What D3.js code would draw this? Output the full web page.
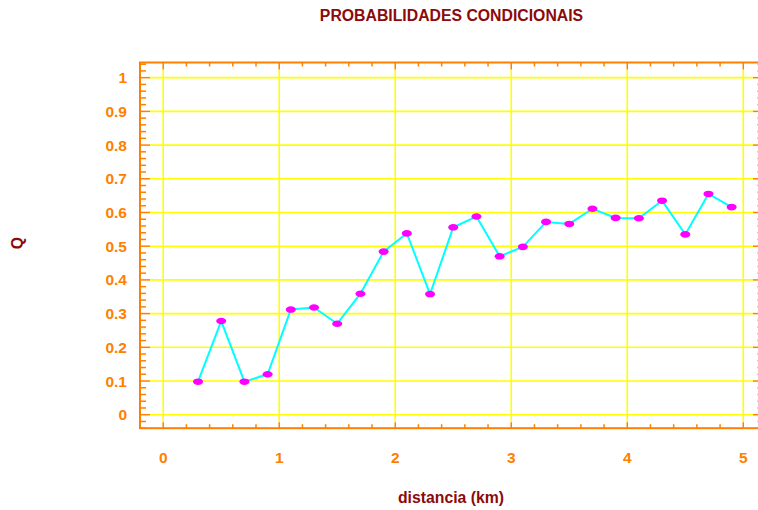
<!DOCTYPE html>
<html><head><meta charset="utf-8">
<script src="https://cdn.jsdelivr.net/npm/d3@7"></script>
<style>
html,body{margin:0;padding:0;background:#fff;overflow:hidden}
text{font-family:"Liberation Sans",Arial,sans-serif;font-weight:bold}
</style></head>
<body>
<svg id="c" width="758" height="510"></svg>
<script>
const xValues = [0.3,0.5,0.7,0.9,1.1,1.3,1.5,1.7,1.9,2.1,2.3,2.5,2.7,2.9,3.1,3.3,3.5,3.7,3.9,4.1,4.3,4.5,4.7,4.9];
const qValues = [0.098,0.278,0.098,0.12,0.312,0.318,0.27,0.359,0.484,0.538,0.358,0.556,0.588,0.470,0.498,0.572,0.566,0.611,0.584,0.583,0.635,0.535,0.655,0.616];
const xTicks = [0,1,2,3,4,5];
const yTicks = [0,0.1,0.2,0.3,0.4,0.5,0.6,0.7,0.8,0.9,1];
const title = "PROBABILIDADES CONDICIONAIS";
const xLabel = "distancia (km)";
const yLabel = "Q";

const svg = d3.select("#c");
const L = 140, R = 763, T = 62.5, B = 428.2;
const x = d3.scaleLinear().domain([-0.2, 5.17]).range([L, R]);
const y = d3.scaleLinear().domain([-0.04, 1.045]).range([B, T]);
const orange = "#ff8000", yellow = "#ffff00", dark = "#8b0a0a";

// grid
const xMinor = d3.range(-0.2, 5.17, 0.2).map(v => +v.toFixed(2));
const yMinor = d3.range(-0.04, 1.045, 0.02).map(v => +v.toFixed(2));
svg.append("g").selectAll("line").data(yTicks).join("line")
  .attr("x1", L + 10).attr("x2", R - 10)
  .attr("y1", d => y(d)).attr("y2", d => y(d))
  .attr("stroke", yellow).attr("stroke-width", 1.6);
svg.append("g").selectAll("line").data(xTicks).join("line")
  .attr("x1", d => x(d)).attr("x2", d => x(d))
  .attr("y1", B - 6).attr("y2", T + 7)
  .attr("stroke", yellow).attr("stroke-width", 1.6);

// ticks
const isMajorX = v => Math.abs(v - Math.round(v)) < 1e-6;
const isMajorY = v => Math.abs(v * 10 - Math.round(v * 10)) < 1e-6;
const tg = svg.append("g").attr("stroke", orange).attr("stroke-width", 1.5);
xMinor.forEach(v => {
  const mj = isMajorX(v);
  tg.append("line").attr("x1", x(v)).attr("x2", x(v)).attr("y1", B).attr("y2", B - (mj ? 6 : 4));
  tg.append("line").attr("x1", x(v)).attr("x2", x(v)).attr("y1", T).attr("y2", T + (mj ? 7 : 4));
});
yMinor.forEach(v => {
  const mj = isMajorY(v);
  tg.append("line").attr("y1", y(v)).attr("y2", y(v)).attr("x1", L).attr("x2", L + (mj ? 10 : 6));
  tg.append("line").attr("y1", y(v)).attr("y2", y(v)).attr("x1", R).attr("x2", R - (mj ? 10 : 6))
    .attr("stroke-opacity", mj ? 1 : 0.5);
});

// frame
svg.append("rect").attr("x", L).attr("y", T).attr("width", R - L).attr("height", B - T)
  .attr("fill", "none").attr("stroke", orange).attr("stroke-width", 2);

// line + markers
const line = d3.line().x((d, i) => x(xValues[i])).y(d => y(d));
svg.append("path").datum(qValues).attr("d", line)
  .attr("fill", "none").attr("stroke", "#00ffff").attr("stroke-width", 2);
svg.append("g").selectAll("ellipse").data(qValues).join("ellipse")
  .attr("cx", (d, i) => x(xValues[i])).attr("cy", d => y(d))
  .attr("rx", 5).attr("ry", 3.3).attr("fill", "#ff00ff");

// tick labels
svg.append("g").selectAll("text").data(yTicks).join("text")
  .attr("x", 127).attr("y", d => y(d)).attr("dy", "0.36em")
  .attr("text-anchor", "end").attr("fill", orange).attr("font-size", 15.5)
  .text(d => d3.format("")(d));
svg.append("g").selectAll("text").data(xTicks).join("text")
  .attr("x", d => x(d)).attr("y", 463)
  .attr("text-anchor", "middle").attr("fill", orange).attr("font-size", 15.5)
  .text(d => d);

// titles
svg.append("text").attr("x", 451.5).attr("y", 21).attr("text-anchor", "middle")
  .attr("fill", dark).attr("font-size", 15.8).text(title);
svg.append("text").attr("x", 451).attr("y", 503).attr("text-anchor", "middle")
  .attr("fill", dark).attr("font-size", 15.8).text(xLabel);
svg.append("text").attr("transform", "translate(22.5,243) rotate(-90)").attr("text-anchor", "middle")
  .attr("fill", dark).attr("font-size", 15.8).text(yLabel);
</script>
</body></html>
